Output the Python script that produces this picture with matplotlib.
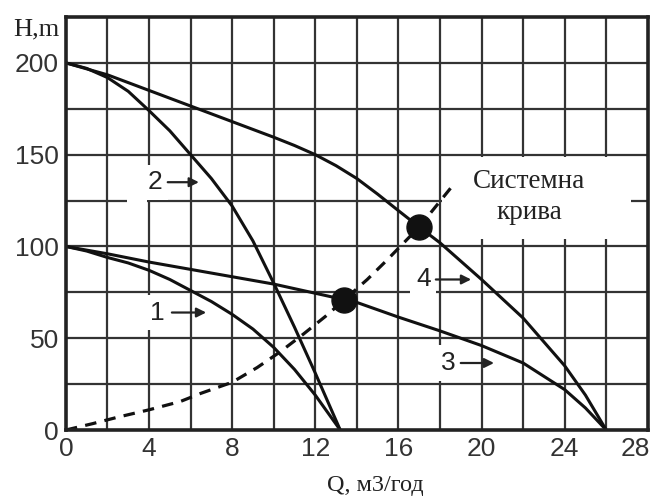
import matplotlib
matplotlib.use("Agg")
import matplotlib.pyplot as plt
import matplotlib.transforms as mtransforms
from matplotlib.patches import Rectangle

# pump head curves H(Q), read point by point
q1 = [0, 1, 2, 3, 4, 5, 6, 7, 8, 9, 10, 11, 12, 13.2]
h1 = [100, 97.5, 94, 91, 87, 82, 76, 70, 63, 55, 45, 33, 19, 0]

q2 = [0, 1, 2, 3, 4, 5, 6, 7, 8, 9, 10, 11, 12, 13.2]
h2 = [200, 197, 192, 184.5, 174, 163, 150, 137, 122, 103, 80, 56, 31, 0]

q3 = [0, 2, 4, 6, 8, 10, 12, 13.4, 14, 16, 18, 20, 22, 24, 25, 26]
h3 = [100, 96, 91.5, 87.5, 83.5, 79.5, 74.5, 71, 69.5, 61.5, 54, 46, 36.5, 22, 12, 0]

q4 = [0, 2, 4, 6, 8, 10, 11, 12, 13, 14, 15, 16, 17, 18, 20, 22, 24, 25, 26]
h4 = [200, 193.5, 185, 176.5, 168, 159.5, 155, 150, 144, 137, 128.5, 119.5,
      110.6, 102, 82, 61, 35, 19, 0]

# system curve (dashed)
qs = [0, 1.3, 2.5, 4, 5.5, 6.5, 8, 9.2, 10.3, 11.4, 12.5, 13.4, 14.5, 15.4, 17, 18.6]
hs = [0, 3.5, 7, 11, 15.5, 20, 26, 34, 42.5, 52, 62, 71, 82, 92, 110.6, 133]

# operating points
q_op = [13.4, 17]
h_op = [71, 110.6]

x_ticks = [0, 4, 8, 12, 16, 20, 24, 28]
y_ticks = [0, 50, 100, 150, 200]

tick_font = ["Liberation Sans", "DejaVu Sans"]
serif_font = ["Liberation Serif", "DejaVu Serif"]

fig = plt.figure(figsize=(6.59, 5.0), dpi=100)
ax = fig.add_axes([0.100, 0.140, 0.883, 0.826])
ax.set_xlim(0, 28)
ax.set_ylim(0, 225)

# grid
for x in range(2, 28, 2):
    ax.axvline(x, color="#333333", lw=1.6, zorder=1)
for y in range(25, 225, 25):
    ax.axhline(y, color="#333333", lw=1.6, zorder=1)

# blank areas behind captions
ax.add_patch(Rectangle((18.1, 104), 9.1, 45, facecolor="white",
                       edgecolor="none", zorder=2))
ax.add_patch(Rectangle((2.95, 123.5), 0.95, 3, facecolor="white",
                       edgecolor="none", zorder=2))

for q, h in [(q1, h1), (q2, h2), (q3, h3), (q4, h4)]:
    ax.plot(q, h, color="#111111", lw=2.2, zorder=3,
            solid_capstyle="round", solid_joinstyle="round")

ax.plot(qs, hs, color="#111111", lw=2.3, dashes=(3.6, 2.6), zorder=3)
ax.plot(q_op, h_op, "o", color="#111111", markersize=18, zorder=4)

# curve numbers with arrows
labels = [("1", 4.4, 64, 5.1, 6.75),
          ("2", 4.3, 135, 4.9, 6.4),
          ("3", 18.4, 36.5, 19.0, 20.6),
          ("4", 17.2, 82, 17.8, 19.5)]
for txt, xt, yt, xa0, xa1 in labels:
    ax.text(xt, yt, txt, ha="center", va="center", fontsize=19,
            family=tick_font, color="#222222", zorder=5,
            bbox=dict(facecolor="white", edgecolor="none", pad=4))
    ax.annotate("", xy=(xa1, yt), xytext=(xa0, yt),
                arrowprops=dict(arrowstyle="-|>", color="#222222", lw=1.6,
                                mutation_scale=14, shrinkA=0, shrinkB=0),
                zorder=6)

ax.text(22.3, 127, "Системна\nкрива", ha="center", va="center",
        multialignment="center", fontsize=19.5, family=serif_font,
        color="#222222", linespacing=1.35, zorder=5)

ax.set_xticks(x_ticks)
ax.set_yticks(y_ticks)
ax.set_xticklabels([str(v) for v in x_ticks], family=tick_font, fontsize=19,
                   color="#333333")
ax.set_yticklabels([str(v) for v in y_ticks], family=tick_font, fontsize=19,
                   color="#333333")
ax.tick_params(length=0, pad=5)

# keep the last Q label inside the figure
last = ax.get_xticklabels()[-1]
last.set_transform(last.get_transform() +
                   mtransforms.ScaledTranslation(-9 / 72, 0, fig.dpi_scale_trans))

for s in ax.spines.values():
    s.set_linewidth(2.6)
    s.set_color("#222222")
    s.set_zorder(6)

fig.text(13 / 659, 1 - 35 / 500, "H,m", ha="left", va="baseline",
         fontsize=19, family=serif_font, color="#222222")
fig.text(375 / 659, 0.018, "Q, м3/год", ha="center", va="baseline",
         fontsize=17.5, family=serif_font, color="#222222")

fig.savefig("out.png", dpi=100)
